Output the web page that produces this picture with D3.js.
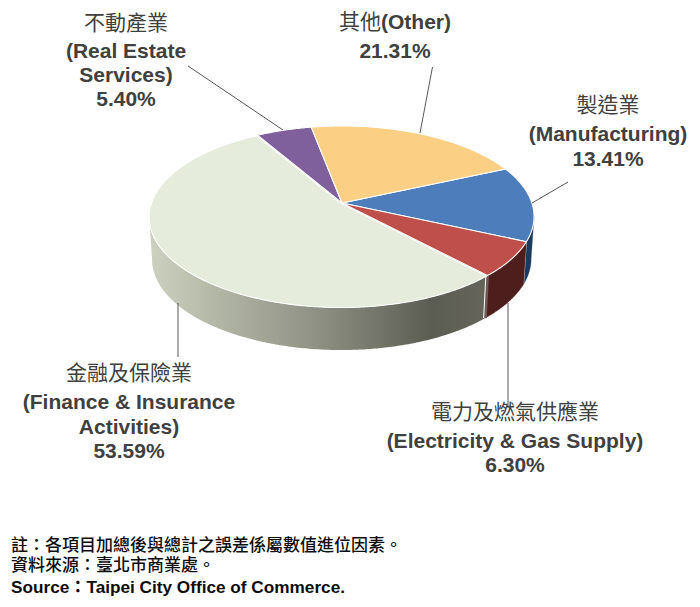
<!DOCTYPE html>
<html><head><meta charset="utf-8">
<script src="https://cdn.jsdelivr.net/npm/d3@7"></script>
<style>html,body{margin:0;background:#fff}svg{display:block}</style></head>
<body><svg id="c" width="700" height="607"></svg>
<script>
const categories = ["製造業","電力及燃氣供應業","金融及保險業","不動產業","其他"];
const englishNames = [["(Manufacturing)"],["(Electricity & Gas Supply)"],["(Finance & Insurance","Activities)"],["(Real Estate","Services)"],["(Other)"]];
const shares = [13.41, 6.30, 53.59, 5.40, 21.31];
const topColors = ["#4d7ebb","#be4f4b","#e6ecdb","#7f609d","#fbd084"];
const sideColors = ["#1c3a5e","#4e1e1c","#8b8d80","#3e2d52","#b08b4c"];
const shareLabels = ["13.41%","6.30%","53.59%","5.40%","21.31%"];
const footnotes = ["註：各項目加總後與總計之誤差係屬數值進位因素。","資料來源：臺北市商業處。","Source：Taipei City Office of Commerce."];

const svg=d3.select("#c");
const defs=svg.append("defs");
const CJK='"Noto Sans CJK TC","Noto Sans CJK SC",sans-serif';
const LAT='"Liberation Sans",Arial,sans-serif';
const START=-24*Math.PI/180;
const pie=d3.pie().sort(null).value(d=>d).startAngle(START).endAngle(START+2*Math.PI)(shares);

// perspective disc projection
const K=0.149;
function proj(theta,r,face){
  const x=r*Math.cos(theta),y=r*Math.sin(theta),w=1-K*y;
  const f=face==="top"?{cx:342,cy:203,a:189.9,b:88.5}:{cx:342,cy:245.5,a:187,b:88.5};
  return [f.cx+f.a*x/w,f.cy+f.b*y/w];
}
function arcPts(a0,a1,face,step=0.01){
  const n=Math.max(2,Math.ceil((a1-a0)/step));
  return d3.range(n+1).map(i=>proj(a0+(a1-a0)*i/n,1,face));
}
const line=d3.line();
const TAN=Math.asin(K), VIS0=TAN, VIS1=Math.PI-TAN;

const grad=defs.append("linearGradient").attr("id","sideG").attr("gradientUnits","userSpaceOnUse")
  .attr("x1",150).attr("x2",490).attr("y1",0).attr("y2",0);
[[0,"#cdd1bf"],[0.15,"#b9bdab"],[0.5,"#8e9084"],[0.83,"#5c5d52"],[1,"#65655b"]].forEach(s=>grad.append("stop").attr("offset",s[0]).attr("stop-color",s[1]));

const isBig=i=>shares[i]===d3.max(shares);
function shift(d,i){
  if(!isBig(i))return "";
  const m=(d.startAngle+d.endAngle)/2;
  return `translate(${1.0*Math.cos(m)},${0.9*Math.sin(m)})`;
}
const g=svg.append("g");
// walls
pie.forEach((d,i)=>{
  const a0=Math.max(d.startAngle,VIS0),a1=Math.min(d.endAngle,VIS1);
  if(a1<=a0)return;
  const pts=arcPts(a0,a1,"top").concat(arcPts(a0,a1,"bottom").reverse());
  g.append("path").attr("d",line(pts)+"Z").attr("transform",shift(d,i))
   .attr("fill",isBig(i)?"url(#sideG)":sideColors[i]).attr("stroke",isBig(i)?"none":sideColors[i]).attr("stroke-width",0.3);
  if(d.endAngle<VIS1 && !isBig(i)){const t=proj(d.endAngle,1,"top"),b=proj(d.endAngle,1,"bottom");
    g.append("line").attr("x1",t[0]).attr("y1",t[1]).attr("x2",b[0]).attr("y2",b[1]).attr("stroke","#fff").attr("stroke-width",1).attr("stroke-opacity",.85);}
});
// seam between the pulled-out slice's wall and its neighbour
pie.forEach((d,i)=>{ if(!isBig(i))return;
  const t=proj(d.startAngle,1,"top"),b=proj(d.startAngle,1,"bottom");
  g.append("path").attr("d",line([t,b])).attr("stroke","#6d5a58").attr("stroke-width",3);
  g.append("path").attr("d",line([t,b])).attr("transform","translate(-1.6,0)").attr("stroke","#fff").attr("stroke-width",1);
});
// gap lines behind the pulled-out slice
pie.forEach((d,i)=>{ if(!isBig(i))return;
  [d.startAngle,d.endAngle].forEach(a=>{
    const o=proj(a,0,"top"),t=proj(a,1,"top");
    g.append("line").attr("x1",o[0]).attr("y1",o[1]).attr("x2",t[0]).attr("y2",t[1]).attr("stroke","#55514c").attr("stroke-width",2);
  });
});
// tops
pie.forEach((d,i)=>{
  const pts=[proj(0,0,"top")].concat(arcPts(d.startAngle,d.endAngle,"top"));
  g.append("path").attr("d",line(pts)+"Z").attr("transform",shift(d,i))
   .attr("fill",topColors[i]).attr("stroke","#fff").attr("stroke-width",1.1).attr("stroke-linejoin","round");
});

// leaders (drawn under the labels)
const leaders=[[[532,203],[568,182]],[[508,303],[508,407]],[[178,303],[178,357]],[[283,130],[188,66]],[[420,133],[432.5,67]]];
svg.append("g").selectAll("path").data(leaders).join("path").attr("d",d=>line(d)).attr("fill","none").attr("stroke","#595959").attr("stroke-width",1);

// labels
const labelAnchors=[
 {x:608,cn:112,en:[141],p:166},
 {x:515,cn:418.5,en:[447.5],p:472},
 {x:129,cn:380,en:[409,434],p:458},
 {x:126,cn:29.5,en:[58,82],p:106},
 {x:395,cn:29,en:[],p:58}];
const FS=21;
const lg=svg.append("g").attr("text-anchor","middle").attr("fill","#404040");
labelAnchors.forEach((l,i)=>{
  const head=lg.append("text").attr("x",l.x).attr("y",l.cn).attr("font-family",CJK).attr("font-size",FS);
  head.append("tspan").text(categories[i]);
  if(!l.en.length) head.append("tspan").attr("font-family",LAT).attr("font-weight",700).text(englishNames[i][0]);
  l.en.forEach((y,j)=>{
    lg.append("text").attr("x",l.x).attr("y",y).attr("font-family",LAT).attr("font-weight",700).attr("font-size",FS).text(englishNames[i][j]);
  });
  lg.append("text").attr("x",l.x).attr("y",l.p).attr("font-family",LAT).attr("font-weight",700).attr("font-size",FS).text(shareLabels[i]);
});

// footer
const fy=[551,571,593];
footnotes.forEach((t,i)=>{
  svg.append("text").attr("x",11).attr("y",fy[i]).attr("fill","#0d0d0d").attr("font-family",LAT+","+CJK).attr("font-weight",i===2?700:500).attr("font-size",i===2?17.2:17).text(t);
});
</script></body></html>
